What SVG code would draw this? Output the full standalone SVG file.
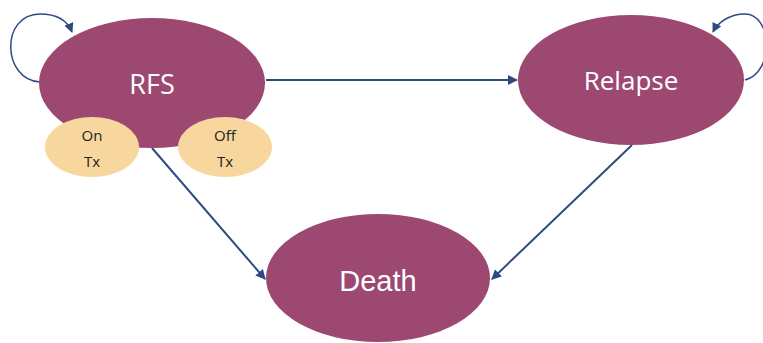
<svg xmlns="http://www.w3.org/2000/svg" width="763" height="343" viewBox="0 0 763 343">
<style>
.state{fill:#9c4871}
.sub{fill:#f7d79e}
.lbl{fill:#ffffff;font-family:"Open Sans","Liberation Sans",sans-serif;text-anchor:middle;dominant-baseline:central}
.sl{fill:#222222;font-family:"Open Sans","Liberation Sans",sans-serif;font-size:15px;text-anchor:middle;dominant-baseline:central}
.edge{fill:none;stroke:#2f4a80;stroke-width:2}
.loop{fill:none;stroke:#2f4a80;stroke-width:1.5}
</style>
<defs>
<marker id="ah" viewBox="0 0 10 10" refX="9" refY="5" markerWidth="5" markerHeight="5" orient="auto" markerUnits="strokeWidth">
<path d="M0,0 L10,5 L0,10 z" fill="#2f4a80"/>
</marker>
<marker id="ahl" viewBox="0 0 10 10" refX="9" refY="5" markerWidth="6.5" markerHeight="6.5" orient="auto" markerUnits="strokeWidth">
<path d="M0,0 L10,5 L0,10 z" fill="#2f4a80"/>
</marker>
</defs>
<g id="connectors">
<path class="loop" d="M40,82 C2,80 0,14 40,14 C58,14 68,22 72,32" marker-end="url(#ahl)"/>
<path class="loop" d="M745,80 C775,72 772,14 745,14 C730,14 718,22 713,32" marker-end="url(#ahl)"/>
<path class="edge" d="M266,80 L517,80" marker-end="url(#ah)"/>
<path class="edge" d="M152,148 L265,279" marker-end="url(#ah)"/>
<path class="edge" d="M632,145 L492,279" marker-end="url(#ah)"/>
</g>
<g id="rfs">
<ellipse class="state" cx="152" cy="83" rx="113" ry="65"/>
<text class="lbl" x="152" y="83" font-size="27">RFS</text>
</g>
<g id="ontx">
<ellipse class="sub" cx="92" cy="147" rx="47" ry="30"/>
<text class="sl" x="92" y="135">On</text>
<text class="sl" x="92" y="161">Tx</text>
</g>
<g id="offtx">
<ellipse class="sub" cx="225" cy="147" rx="47" ry="30"/>
<text class="sl" x="225" y="135">Off</text>
<text class="sl" x="225" y="161">Tx</text>
</g>
<g id="relapse">
<ellipse class="state" cx="631" cy="80" rx="113" ry="65"/>
<text class="lbl" x="631" y="80" font-size="26">Relapse</text>
</g>
<g id="death">
<ellipse class="state" cx="378" cy="278" rx="112" ry="64"/>
<text class="lbl" x="378" y="281" font-size="29" style="font-family:'Liberation Sans',Arial,sans-serif">Death</text>
</g>
</svg>
